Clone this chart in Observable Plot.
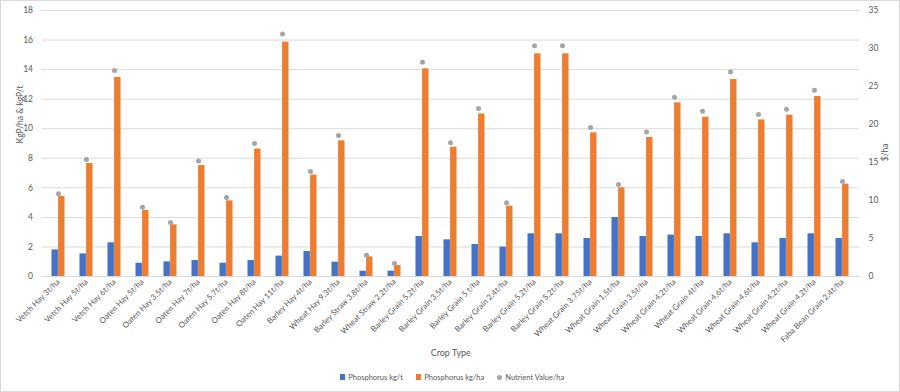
<!DOCTYPE html>
<html>
<head>
<meta charset="utf-8">
<script src="https://cdn.jsdelivr.net/npm/d3@7"></script>
<script src="https://cdn.jsdelivr.net/npm/@observablehq/plot@0.6"></script>
<style>
  html, body { margin: 0; padding: 0; background: #fff; }
  #wrap { width: 898px; height: 390px; border: 1px solid #d9d9d9; position: relative; overflow: hidden; font-family: Lato, "Open Sans", sans-serif; }
  #legend { display: flex; justify-content: center; align-items: center; gap: 13px; font-size: 7.5px; color: #595959; height: 24px; padding-left: 4px; }
  #legend .it { display: flex; align-items: center; gap: 3px; }
  #legend .sw { width: 5.5px; height: 5.5px; display: inline-block; }
  #legend .dt { width: 5px; height: 5px; border-radius: 50%; display: inline-block; }
</style>
</head>
<body>
<div id="wrap"><div id="chart"></div><div id="legend"></div></div>
<script>
const categories = [
  "Vetch Hay 3t/ha", "Vetch Hay 5t/ha", "Vetch Hay 6t/ha",
  "Oaten Hay 5t/ha", "Oaten Hay 3.5t/ha", "Oaten Hay 7t/ha", "Oaten Hay 5.7t/ha", "Oaten Hay 8t/ha", "Oaten Hay 11t/ha",
  "Barley Hay 4t/ha", "Wheat Hay 9.3t/ha", "Barley Straw 3.8t/ha", "Wheat Straw 2.2t/ha",
  "Barley Grain 5.2t/ha", "Barley Grain 3.5t/ha", "Barley Grain 5 t/ha", "Barley Grain 2.4t/ha", "Barley Grain 5.2t/ha", "Barley Grain 5.2t/ha",
  "Wheat Grain 3.75t/ha", "Wheat Grain 1.5t/ha", "Wheat Grain 3.5t/ha", "Wheat Grain 4.2t/ha", "Wheat Grain 4t/ha",
  "Wheat Grain 4.6t/ha", "Wheat Grain 4.6t/ha", "Wheat Grain 4.2t/ha", "Wheat Grain 4.2t/ha", "Faba Bean Grain 2.4t/ha"
];
const phosphorusKgT = [1.80, 1.53, 2.28, 0.90, 0.99, 1.08, 0.90, 1.08, 1.38, 1.69, 0.97, 0.36, 0.36, 2.71, 2.48, 2.17, 1.99, 2.89, 2.89, 2.57, 3.99, 2.71, 2.80, 2.71, 2.89, 2.28, 2.57, 2.89, 2.57];
const phosphorusKgHa = [5.41, 7.65, 13.47, 4.47, 3.50, 7.51, 5.12, 8.62, 15.86, 6.86, 9.18, 1.33, 0.74, 14.05, 8.75, 11.0, 4.76, 15.07, 15.07, 9.72, 6.0, 9.41, 11.75, 10.78, 13.33, 10.6, 10.92, 12.18, 6.25];
const nutrientValue = [10.9, 15.4, 27.1, 9.1, 7.1, 15.2, 10.4, 17.5, 31.9, 13.8, 18.55, 2.8, 1.7, 28.2, 17.6, 22.1, 9.7, 30.35, 30.35, 19.6, 12.1, 19.0, 23.6, 21.75, 26.9, 21.3, 22.0, 24.5, 12.5];
const leftTicks = [0, 2, 4, 6, 8, 10, 12, 14, 16, 18];
const rightTicks = [0, 5, 10, 15, 20, 25, 30, 35];
const seriesNames = ["Phosphorus kg/t", "Phosphorus kg/ha", "Nutrient Value/ha"];
const seriesColors = ["#4472C4", "#ED7D31", "#A5A5A5"];

const leftMax = 18, rightMax = 35;
const toLeft = v => v * leftMax / rightMax;

const rows = categories.map((c, i) => ({i, c, kgt: phosphorusKgT[i], kgha: phosphorusKgHa[i], nv: nutrientValue[i]}));

const W = 898, H = 364, mL = 40.5, mR = 40;
const band = (W - mL - mR) / categories.length;
const barW = 6.6;
const half = band / 2;

const chart = Plot.plot({
  width: W, height: H,
  marginLeft: mL, marginRight: mR, marginTop: 9, marginBottom: 89,
  style: {fontFamily: "Lato, 'Open Sans', sans-serif", fontSize: "8.5px", color: "#595959", background: "#fff"},
  x: {type: "band", domain: d3.range(categories.length), padding: 0},
  y: {domain: [0, leftMax]},
  marks: [
    Plot.gridY(leftTicks, {stroke: "#d9d9d9", strokeOpacity: 1}),
    Plot.axisY(leftTicks, {anchor: "left", tickSize: 0, tickPadding: 9, label: null}),
    Plot.axisY(rightTicks.map(toLeft), {anchor: "right", tickSize: 0, tickPadding: 9, label: null, tickFormat: d => Math.round(d * rightMax / leftMax)}),
    Plot.axisX({tickSize: 0, tickPadding: 4, tickRotate: -45, tickFormat: i => categories[i], label: null, fontSize: 8}),
    Plot.barY(rows, {x: "i", y: "kgt", fill: seriesColors[0], insetLeft: half - barW, insetRight: half}),
    Plot.barY(rows, {x: "i", y: "kgha", fill: seriesColors[1], insetLeft: half, insetRight: half - barW}),
    Plot.ruleY([0], {stroke: "#d9d9d9"}),
    Plot.dot(rows, {x: "i", y: d => toLeft(d.nv), r: 2.5, fill: seriesColors[2], stroke: "none"}),
    Plot.text(["KgP/ha & kgP/t"], {frameAnchor: "left", dx: -22, rotate: -90, fill: "#595959", fontSize: 8.5}),
    Plot.text(["$/ha"], {frameAnchor: "right", dx: 26, rotate: -90, fill: "#595959", fontSize: 8.5}),
    Plot.text(["Crop Type"], {frameAnchor: "bottom", dy: 79, fill: "#595959", fontSize: 9})
  ]
});
document.getElementById("chart").appendChild(chart);

const legend = document.getElementById("legend");
seriesNames.forEach((name, k) => {
  const it = document.createElement("div");
  it.className = "it";
  const sw = document.createElement("span");
  sw.className = k === 2 ? "dt" : "sw";
  sw.style.background = seriesColors[k];
  const tx = document.createElement("span");
  tx.textContent = name;
  it.appendChild(sw); it.appendChild(tx);
  legend.appendChild(it);
});
</script>
</body>
</html>
